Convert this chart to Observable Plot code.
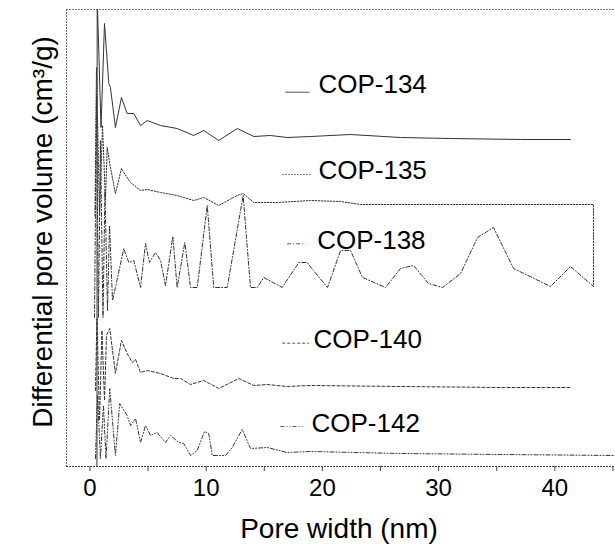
<!DOCTYPE html>
<html><head><meta charset="utf-8">
<script src="https://cdn.jsdelivr.net/npm/d3@7"></script>
<script src="https://cdn.jsdelivr.net/npm/@observablehq/plot@0.6"></script>
<style>html,body{margin:0;padding:0;background:#fff;overflow:hidden}</style>
</head><body><div id="chart"></div>
<script>
// Series names
const series = ["COP-134", "COP-135", "COP-138", "COP-140", "COP-142"];

// Pore width (nm) and differential pore volume (a.u., offset curves)
const x134 = [0.60, 0.62, 0.95, 1.25, 1.62, 1.76, 2.19, 2.71, 3.20, 3.77, 4.35, 4.92, 6.07, 7.50, 8.93, 9.79, 11.08, 12.67, 14.10, 15.53, 16.97, 18.98, 22.42, 26.72, 31.02, 37.05, 41.35];
const y134 = [0, 470, 339, 443, 383, 379, 339, 369, 353, 353, 341, 346, 341, 338, 331, 336, 326, 338, 330, 331, 329, 330, 332, 329, 328, 327, 327];

const x135 = [0.43, 0.56, 0.82, 1.08, 1.33, 1.48, 1.70, 2.19, 2.71, 2.91, 3.49, 4.35, 4.92, 6.07, 7.50, 8.93, 9.79, 11.08, 12.67, 13.18, 14.10, 16.11, 18.98, 21.56, 23.28, 31.02, 43.33, 43.33];
const y135 = [251, 399, 251, 341, 266, 319, 303, 273, 298, 294, 284, 276, 277, 274, 271, 266, 269, 261, 271, 273, 264, 264, 266, 265, 262, 262, 262, 180];

const x138 = [0.39, 0.56, 0.73, 0.90, 1.12, 1.29, 1.51, 1.68, 1.94, 2.19, 2.91, 3.34, 3.77, 4.35, 4.78, 5.12, 5.64, 6.07, 6.50, 7.13, 7.50, 8.16, 8.65, 9.23, 10.09, 10.65, 11.81, 13.18, 13.81, 14.39, 14.96, 16.54, 17.97, 18.69, 19.23, 20.44, 21.56, 22.42, 23.45, 25.43, 26.72, 27.84, 29.13, 30.34, 31.89, 33.35, 34.72, 36.45, 39.63, 41.35, 43.33];
const y138 = [149, 371, 149, 326, 149, 276, 156, 241, 166, 179, 218, 204, 206, 179, 223, 204, 214, 206, 181, 230, 179, 224, 179, 179, 261, 179, 179, 271, 179, 179, 189, 179, 204, 204, 196, 179, 216, 216, 189, 179, 198, 201, 183, 179, 193, 229, 239, 198, 180, 200, 180];

const x140 = [0.47, 0.60, 0.82, 1.03, 1.25, 1.42, 1.70, 2.19, 2.71, 3.20, 3.63, 3.92, 4.35, 4.92, 6.07, 7.21, 7.79, 8.65, 9.79, 11.08, 12.81, 14.10, 15.25, 16.97, 18.98, 26.72, 35.33, 41.35];
const y140 = [76, 148, 46, 136, 66, 131, 138, 93, 126, 113, 104, 107, 94, 96, 93, 88, 88, 82, 86, 78, 88, 81, 82, 80, 81, 80, 79, 79];

const x142 = [0.47, 0.65, 0.90, 1.16, 1.38, 1.70, 2.19, 2.56, 3.20, 3.49, 3.92, 4.35, 4.78, 5.21, 5.78, 6.50, 6.93, 7.64, 8.07, 8.65, 9.23, 9.85, 10.22, 10.52, 11.66, 12.24, 13.10, 13.81, 15.25, 16.97, 18.98, 26.72, 35.33, 45.22];
const y142 = [8, 71, 8, 61, 8, 78, 11, 63, 51, 41, 48, 24, 41, 31, 34, 24, 31, 24, 23, 11, 16, 35, 33, 11, 11, 19, 37, 18, 19, 14, 15, 13, 12, 11];

// Axis ticks and titles
const xTicks = [0, 5, 10, 15, 20, 25, 30, 35, 40, 45];
const xTitle = "Pore width (nm)";
const yTitle = "Differential pore volume (cm³/g)";

// ---- build ----
const xs = [x134, x135, x138, x140, x142];
const ys = [y134, y135, y138, y140, y142];
const dashes = [null, "1.5,1.5", "4,2,1,2", "3,2", "4,2,1,2,1,2"];
const labelX = [19.66, 19.66, 19.55, 19.23, 19.06];
const labelY = [374, 288, 218, 119, 35];
const leadY = [374.3, 292, 222.7, 123.3, 40];
const leadX1 = [16.81, 16.54, 16.97, 16.54, 16.39];
const leadX2 = [18.89, 18.98, 18.55, 18.83, 18.40];

const xDomain = [-2.02, 45.22];
const yDomain = [0, 457];
const ink = "#333";

const marks = [];
series.forEach((s, i) => {
  const rows = xs[i].map((x, j) => ({series: s, x, y: ys[i][j]}));
  marks.push(Plot.line(rows, {x: "x", y: "y", stroke: ink, strokeWidth: 1, strokeDasharray: dashes[i], clip: true}));
  marks.push(Plot.link([s], {x1: () => leadX1[i], x2: () => leadX2[i], y1: () => leadY[i], y2: () => leadY[i], stroke: "#555", strokeWidth: 1, strokeDasharray: dashes[i]}));
  marks.push(Plot.text([s], {x: () => labelX[i], y: () => labelY[i], text: d => d, textAnchor: "start", lineAnchor: "bottom", fontSize: 26, fill: "#000"}));
});

const chart = Plot.plot({
  width: 615,
  height: 544,
  marginLeft: 66,
  marginRight: 0,
  marginTop: 9,
  marginBottom: 78,
  style: {fontFamily: "'Liberation Sans', Arial, sans-serif", background: "#fff", color: "#000"},
  x: {domain: xDomain, label: null},
  y: {domain: yDomain, axis: null, label: null},
  marks: [
    Plot.ruleY([yDomain[1]], {stroke: "#777", strokeDasharray: "2,1"}),
    Plot.ruleX([xDomain[0]], {stroke: "#666", strokeDasharray: "2,1"}),
    Plot.ruleY([yDomain[0]], {stroke: "#444", strokeDasharray: "2,1"}),
    ...marks,
    Plot.axisX({ticks: xTicks, tickFormat: d => (d % 10 === 0 ? String(d) : ""), tickSize: 5, tickPadding: 7, fontSize: 24, label: null, stroke: "#444"}),
    Plot.text([xTitle], {text: d => d, frameAnchor: "bottom", textAnchor: "middle", dx: -2, dy: 71, lineAnchor: "bottom", fontSize: 28, fill: "#000"}),
    Plot.text([yTitle], {text: d => d, frameAnchor: "left", textAnchor: "middle", rotate: -90, dx: -15, dy: -6, lineAnchor: "bottom", fontSize: 28, fill: "#000"})
  ]
});
document.getElementById("chart").appendChild(chart);
</script></body></html>
